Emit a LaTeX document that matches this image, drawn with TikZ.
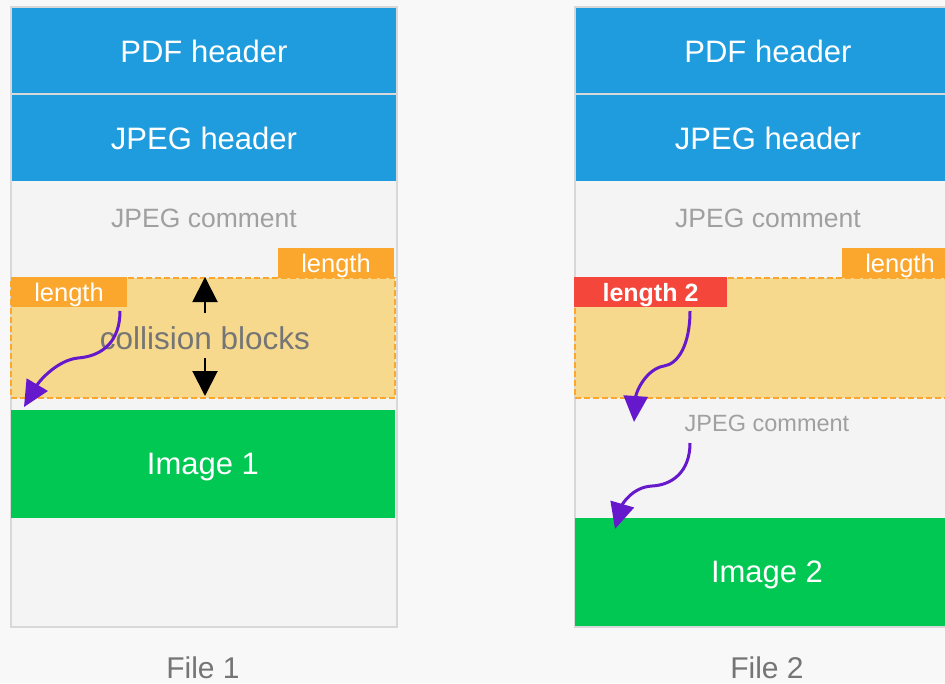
\documentclass[tikz,border=0pt]{standalone}
\usepackage{fontspec}
\setmainfont{Liberation Sans}
\usetikzlibrary{arrows.meta}
\definecolor{pagebg}{HTML}{F8F8F8}
\definecolor{filefill}{HTML}{F4F4F4}
\definecolor{fileline}{HTML}{D8D8D8}
\definecolor{hdrblue}{HTML}{1E9CDE}
\definecolor{imggreen}{HTML}{00C853}
\definecolor{lenorange}{HTML}{FBA62D}
\definecolor{collfill}{HTML}{F6D98C}
\definecolor{lenred}{HTML}{F4463A}
\definecolor{jumppurple}{HTML}{6619CC}
\definecolor{softgray}{HTML}{A0A0A0}
\definecolor{darkgray}{HTML}{757575}
\tikzset{
  block/.style={rectangle, inner sep=0pt, outer sep=0pt, anchor=north west, text depth=0pt},
  filebox/.style={block, fill=filefill, draw=fileline, line width=1.5pt,
    minimum width=386pt, minimum height=620pt},
  hdr/.style={block, fill=hdrblue, text=white, minimum width=384pt,
    minimum height=86pt, font=\fontsize{31}{36}\selectfont},
  imgbox/.style={block, fill=imggreen, text=white, minimum width=384pt,
    minimum height=108pt, font=\fontsize{31}{36}\selectfont},
  collbox/.style={block, fill=collfill, draw=lenorange, line width=1.3pt,
    dash pattern=on 6pt off 3pt, minimum width=384pt, minimum height=120pt},
  lenbox/.style={block, fill=lenorange, text=white, minimum width=116pt,
    minimum height=30pt, font=\fontsize{25.5}{30}\selectfont},
  len2box/.style={block, fill=lenred, text=white, minimum width=153pt,
    minimum height=30pt, font=\fontsize{25}{30}\selectfont\bfseries},
  comment/.style={text=softgray, inner sep=0pt, text depth=0pt},
  caption/.style={text=darkgray, inner sep=0pt, text depth=0pt, font=\fontsize{30}{36}\selectfont},
  jump/.style={draw=jumppurple, line width=3pt,
    -{Triangle[length=26pt,width=24pt]}},
  sizearrow/.style={draw=black, line width=2pt, -{Triangle[length=25pt,width=25pt]}}
}
\begin{document}
\begin{tikzpicture}[x=1pt,y=-1pt]
\useasboundingbox (0,0) rectangle (945,683);
\clip (0,0) rectangle (945,683);
\fill[pagebg] (0,0) rectangle (945,683);

% ---------- File 1 ----------
\node[filebox] (f1) at (11,7) {};
\node[hdr] (f1pdf) at (12,8) {PDF header};
\node[hdr] (f1jpg) at (12,95) {JPEG header};
\draw[fileline, line width=1.2pt] (f1pdf.south west) -- (f1pdf.south east);
\node[comment, font=\fontsize{26.5}{30}\selectfont] (f1com) at (204,218) {JPEG comment};
\node[collbox] (f1coll) at (11,278) {};
\node[text=darkgray, text depth=0pt, font=\fontsize{31.5}{36}\selectfont] (f1colltext) at (205,338) {collision blocks};
\node[lenbox] (f1lenA) at (278,248) {length};
\node[lenbox] (f1lenB) at (11,277) {length};
\node[imgbox] (f1img) at (11,410) {Image 1};
\coordinate (f1upfrom) at (205,313);
\coordinate (f1upto) at (205,277);
\coordinate (f1dnfrom) at (205,358);
\coordinate (f1dnto) at (205,396);
\draw[sizearrow] (f1upfrom) -- (f1upto);
\draw[sizearrow] (f1dnfrom) -- (f1dnto);
\coordinate (f1jumpfrom) at (120,311);
\coordinate (f1jumpmid) at (78,358);
\coordinate (f1jumpto) at (24,407);
\draw[jump] (f1jumpfrom) .. controls (120,340) and (104,356) .. (f1jumpmid)
  .. controls (58,360) and (40,380) .. (f1jumpto);
\node[caption] (f1cap) at (203,668) {File 1};

% ---------- File 2 ----------
\node[filebox] (f2) at (575,7) {};
\node[hdr] (f2pdf) at (576,8) {PDF header};
\node[hdr] (f2jpg) at (576,95) {JPEG header};
\draw[fileline, line width=1.2pt] (f2pdf.south west) -- (f2pdf.south east);
\node[comment, font=\fontsize{26.5}{30}\selectfont] (f2com) at (768,218) {JPEG comment};
\node[collbox] (f2coll) at (575,278) {};
\node[lenbox] (f2lenA) at (842,248) {length};
\node[len2box] (f2len2) at (574,277) {length 2};
\node[comment, font=\fontsize{23.5}{28}\selectfont] (f2com2) at (767,423) {JPEG comment};
\node[imgbox] (f2img) at (575,518) {Image 2};
\coordinate (f2jumpAfrom) at (690,311);
\coordinate (f2jumpAmid) at (664,366);
\coordinate (f2jumpAto) at (634,422);
\draw[jump] (f2jumpAfrom) .. controls (690,345) and (678,364) .. (f2jumpAmid)
  .. controls (646,369) and (636,392) .. (f2jumpAto);
\coordinate (f2jumpBfrom) at (690,443);
\coordinate (f2jumpBmid) at (652,486);
\coordinate (f2jumpBto) at (615,529);
\draw[jump] (f2jumpBfrom) .. controls (690,472) and (672,485) .. (f2jumpBmid)
  .. controls (632,487) and (622,505) .. (f2jumpBto);
\node[caption] (f2cap) at (767,668) {File 2};
\end{tikzpicture}
\end{document}
